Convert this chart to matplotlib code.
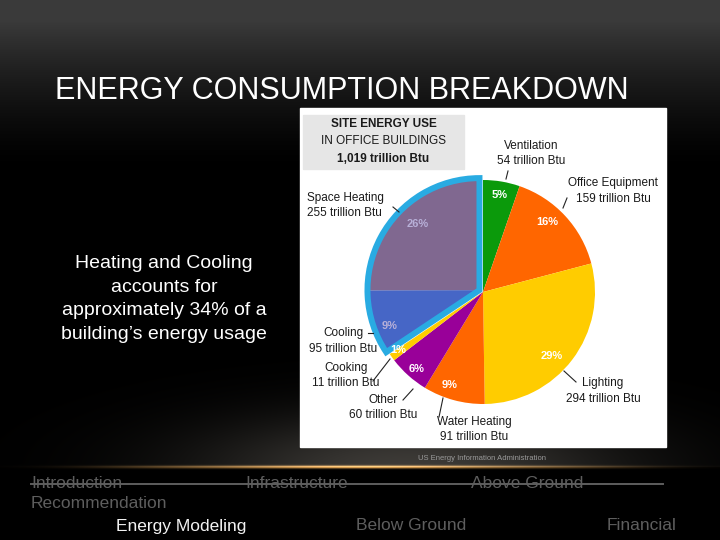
import numpy as np
import matplotlib.pyplot as plt
from matplotlib.patches import Rectangle, Wedge

plt.rcParams['font.family'] = ['Liberation Sans', 'DejaVu Sans']

# Data from the EIA chart
categories = ['Ventilation', 'Office Equipment', 'Lighting', 'Water Heating',
              'Other', 'Cooking', 'Cooling', 'Space Heating']
values = [54, 159, 294, 91, 60, 11, 95, 255]
pct_labels = ['5%', '16%', '29%', '9%', '6%', '1%', '9%', '26%']
colors = ['#0b9a0b', '#ff6600', '#ffcc00', '#ff6600', '#990099', '#ffcc00',
          '#4666c6', '#806890']
nav_items = ['Introduction', 'Infrastructure', 'Above Ground', 'Recommendation',
             'Energy Modeling', 'Below Ground', 'Financial']

W, H = 720, 540


def Y(y):
    # convert "pixels from top" to axis units (y up)
    return H - y


fig = plt.figure(figsize=(7.2, 5.4), dpi=100)
ax = fig.add_axes([0, 0, 1, 1])

# slide background: grey fade at the top, glow + gold rule near the bottom
yy, xx = np.mgrid[0:H, 0:W].astype(float)
top = np.clip(1 - np.clip(yy - 20, 0, None) / 150, 0, 1) ** 1.5 * 0.23
glow = np.exp(-(((xx - 410) / 210) ** 2 + ((yy - 468) / 55) ** 2)) * 0.24
glow *= (yy < 467)
bg = np.zeros((H, W, 3))
for i, c in enumerate([1.0, 0.96, 0.9]):
    bg[..., i] = top + glow * c
gold = np.exp(-((xx - 370) / 260) ** 4 - ((yy - 466.5) / 1.5) ** 2)
gold *= 0.6 + 0.5 * np.exp(-((xx - 360) / 120) ** 2)
bg[..., 0] += gold * 0.85
bg[..., 1] += gold * 0.62
bg[..., 2] += gold * 0.32
bg = np.clip(bg, 0, 1)
ax.imshow(bg, extent=(0, W, 0, H), origin='upper', zorder=0, aspect='auto')

# white chart panel
ax.add_patch(Rectangle((300, Y(447)), 366, 339, color='white', zorder=1))
ax.add_patch(Rectangle((303, Y(169)), 161, 54, color='#e6e6e6', zorder=2))

# pie
cx, cy, r = 483, Y(292), 112
wedges, _ = ax.pie(values, colors=colors, startangle=90, counterclock=False,
                   radius=r, center=(cx, cy), wedgeprops=dict(linewidth=0))
for w in wedges:
    w.set_zorder(3)

# pull out heating + cooling together and ring them in blue
t1 = min(wedges[6].theta1, wedges[7].theta1)
t2 = max(wedges[6].theta2, wedges[7].theta2)
mid = np.deg2rad((t1 + t2) / 2)
off = (cx + 4 * np.cos(mid), cy + 4 * np.sin(mid))
wedges[6].set_center(off)
wedges[7].set_center(off)
ax.add_patch(Wedge(off, r, t1, t2, fill=False, ec='#29abe2', lw=4.3,
                   joinstyle='miter', zorder=4))

# percent labels
pct_pos = [(500, 195), (547, 222), (552, 356), (450, 385), (417, 369),
           (398, 350), (390, 326), (418, 224)]
pct_cols = ['white'] * 6 + ['#b8b0d8', '#b8b0d8']
for t, (x, y), c in zip(pct_labels, pct_pos, pct_cols):
    ax.text(x, Y(y), t, color=c, fontsize=8, fontweight='bold',
            ha='center', va='center', zorder=5)

# category labels with leader lines
lab_pos = [(531, 146, 'center'), (613, 183, 'center'), (603, 383, 'center'),
           (474, 422, 'center'), (383, 400, 'center'), (346, 368, 'center'),
           (343, 333, 'center'), (307, 198, 'left')]
leaders = [((508, 171), (506, 179)), ((567, 198), (563, 208)),
           ((576, 382), (564, 371)), ((439, 417), (443, 398)),
           ((403, 400), (413, 389)), ((373, 381), (390, 359)),
           ((368, 333), (373, 333)), ((393, 207), (399, 212))]
for name, v, (x, y, ha), (p0, p1) in zip(categories, values, lab_pos, leaders):
    ax.text(x, Y(y), name, fontsize=8.5, color='#1a1a1a', ha=ha, va='center', zorder=5)
    ax.text(x, Y(y + 15.5), f'{v} trillion Btu', fontsize=8.5, color='#1a1a1a',
            ha=ha, va='center', zorder=5)
    ax.plot([p0[0], p1[0]], [Y(p0[1]), Y(p1[1])], color='#222222', lw=0.8, zorder=5)

ax.text(383.5, Y(124), 'SITE ENERGY USE', fontsize=8.5, fontweight='bold',
        color='#1a1a1a', ha='center', va='center', zorder=5)
ax.text(383.5, Y(141), 'IN OFFICE BUILDINGS', fontsize=8.5,
        color='#1a1a1a', ha='center', va='center', zorder=5)
ax.text(383.5, Y(159), f'{sum(values):,} trillion Btu', fontsize=8.5, fontweight='bold',
        color='#1a1a1a', ha='center', va='center', zorder=5)

# slide text
ax.text(55, Y(91), 'ENERGY CONSUMPTION BREAKDOWN', fontsize=22, color='white',
        ha='left', va='center', zorder=5)
ax.text(164, Y(299), 'Heating and Cooling\naccounts for\napproximately 34% of a\n'
        'building\u2019s energy usage', fontsize=14, color='white',
        ha='center', va='center', linespacing=1.5, zorder=5)
ax.text(418, Y(458), 'US Energy Information Administration', fontsize=5.5,
        color='#9a9a9a', ha='left', va='center', zorder=5)

# navigation bar
nav_pos = [(31, 483, 'left'), (245, 483, 'left'), (471, 483, 'left'),
           (31, 504, 'left'), (116, 526, 'left'), (356, 526, 'left'),
           (677, 526, 'right')]
for name, (x, y, ha) in zip(nav_items, nav_pos):
    c = '#f2f2f2' if name == 'Energy Modeling' else '#5e5e5e'
    ax.text(x, Y(y), name, fontsize=12.5, color=c, ha=ha, va='center', zorder=5)
ax.plot([31, 663], [Y(484), Y(484)], color='#5e5e5e', lw=1.4, zorder=6)

ax.set_xlim(0, W)
ax.set_ylim(0, H)
ax.set_aspect('auto')
ax.axis('off')

fig.savefig('out.png', dpi=100, facecolor='black')
